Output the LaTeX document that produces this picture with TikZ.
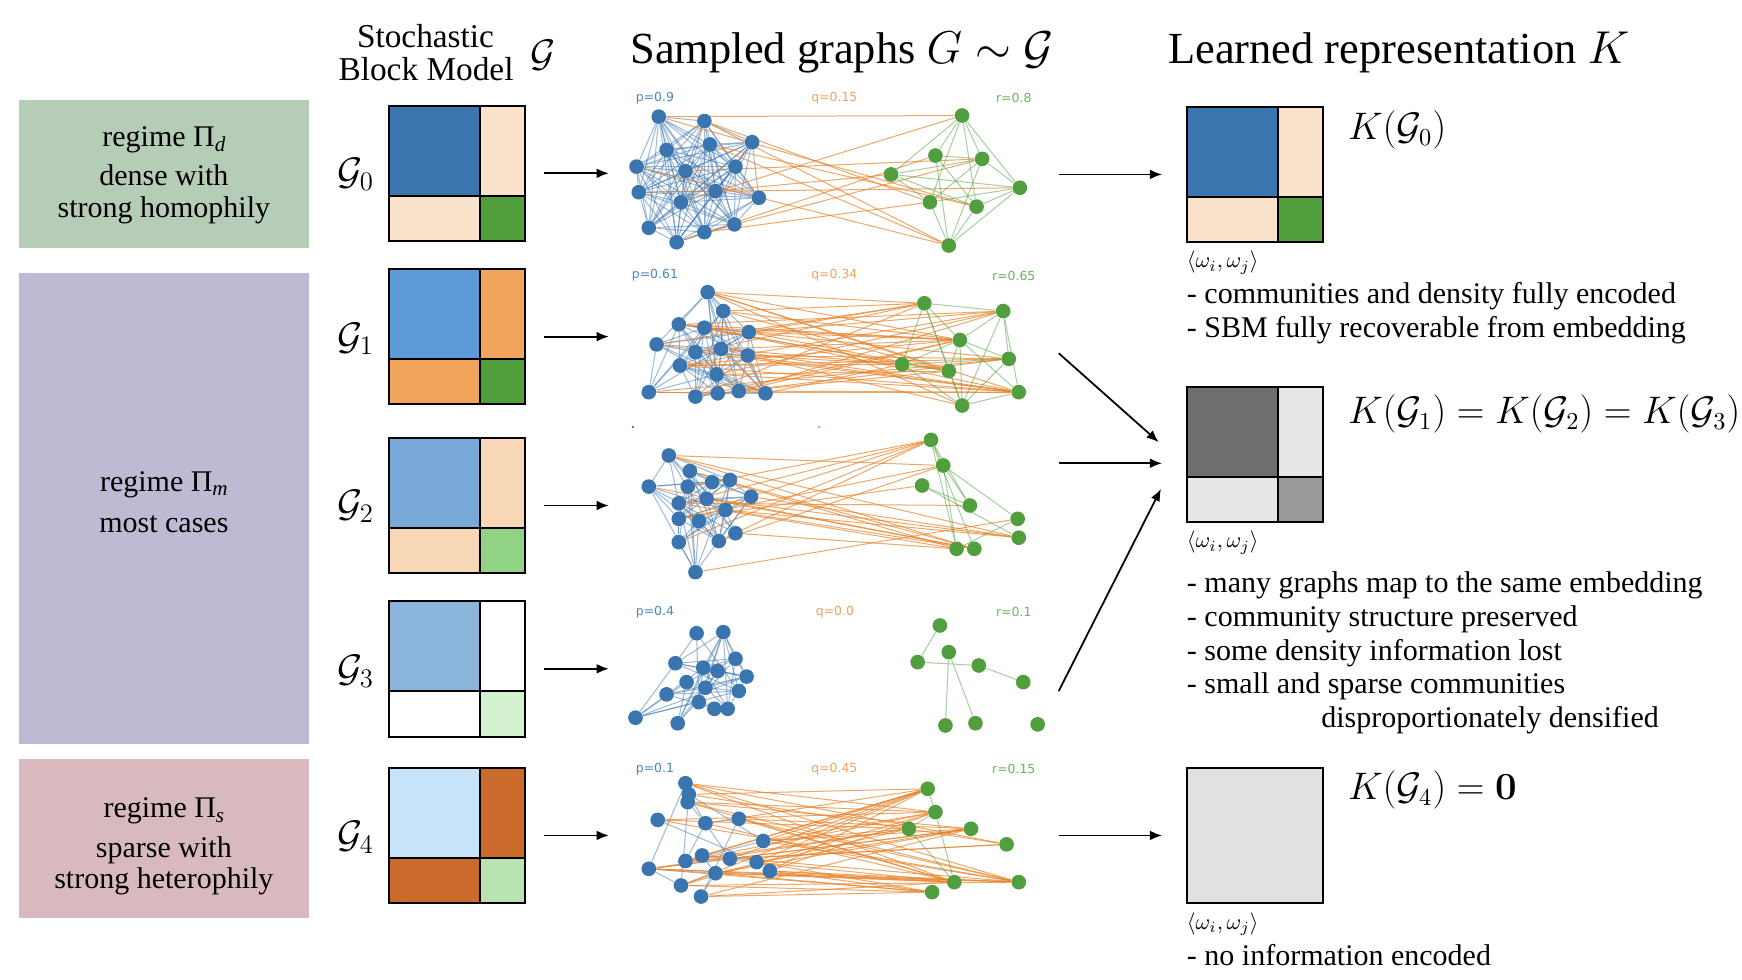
\documentclass[tikz,border=0pt]{standalone}
\usepackage[no-math]{fontspec}
\setmainfont{Liberation Serif}
\newfontfamily\dejavu{DejaVu Sans}
\usetikzlibrary{arrows.meta,backgrounds}

\definecolor{nblue}{HTML}{3A75B0}
\definecolor{ngreen}{HTML}{519E3E}
\definecolor{eorange}{HTML}{E8832A}
\definecolor{lblue}{HTML}{4A86C0}
\definecolor{lorange}{HTML}{F3A25C}
\definecolor{lgreen}{HTML}{6CB35C}
\definecolor{rgreen}{HTML}{B5CCB6}
\definecolor{rpurple}{HTML}{BCBBD3}
\definecolor{rpink}{HTML}{D8B9BD}
\definecolor{mblueA}{HTML}{3B75AF}
\definecolor{mpeach}{HTML}{FAE2CB}
\definecolor{mgreenA}{HTML}{509E3C}
\definecolor{mblueB}{HTML}{5C9BD8}
\definecolor{morangeB}{HTML}{F0A45C}
\definecolor{mblueC}{HTML}{78A9D9}
\definecolor{mpeachC}{HTML}{F7D7B5}
\definecolor{mgreenC}{HTML}{92D385}
\definecolor{mblueD}{HTML}{8BB4DA}
\definecolor{mgreenD}{HTML}{D3F0CF}
\definecolor{mblueE}{HTML}{C6E3FA}
\definecolor{morangeE}{HTML}{CB6B2B}
\definecolor{mgreenE}{HTML}{B9E3B2}
\definecolor{kdark}{HTML}{6E6E6E}
\definecolor{klight}{HTML}{E6E6E6}
\definecolor{kmid}{HTML}{999999}
\definecolor{kzero}{HTML}{E1E1E1}

\newcommand\intraedges[4]{%
  \foreach \i in {1,...,#2}{%
    \foreach \j in {1,...,#2}{%
      \ifnum\j>\i\relax
        \pgfmathsetmacro\rr{rnd}%
        \ifdim\rr pt<#3pt\relax\draw[#4] (#1\i) -- (#1\j);\fi
      \fi}}}
\newcommand\interedges[6]{%
  \foreach \i in {1,...,#2}{%
    \foreach \j in {1,...,#4}{%
      \pgfmathsetmacro\rr{rnd}%
      \ifdim\rr pt<#5pt\relax\draw[#6] (#1\i) -- (#3\j);\fi}}}
\newcommand\sbmblock[6]{%
  \fill[#4] (#2,#3) rectangle (#2+82,#3+81);
  \fill[#5] (#2+82,#3) rectangle (#2+123,#3+81);
  \fill[#5] (#2,#3+81) rectangle (#2+82,#3+122);
  \fill[#6] (#2+82,#3+81) rectangle (#2+123,#3+122);
  \draw[mline] (#2+82,#3) -- (#2+82,#3+122) (#2,#3+81) -- (#2+123,#3+81);
  \node[mbox] (#1) at (#2+61.5,#3+61) {};
}
\newcommand\lsub[1]{\raisebox{-0.35ex}{\fontsize{9.5}{10}\selectfont\itshape #1}}

\begin{document}
\begin{tikzpicture}[x=0.5pt,y=-0.5pt,
  bnode/.style={circle,fill=nblue,inner sep=0pt,minimum size=6.6pt},
  gnode/.style={circle,fill=ngreen,inner sep=0pt,minimum size=6.6pt},
  bedge/.style={draw=nblue,draw opacity=0.5,line width=0.45pt},
  oedge/.style={draw=eorange,draw opacity=0.7,line width=0.45pt},
  gedge/.style={draw=ngreen,draw opacity=0.5,line width=0.45pt},
  mbox/.style={draw,line width=0.9pt,minimum width=61.5pt,minimum height=61pt,inner sep=0pt,outer sep=0pt},
  mline/.style={line width=0.9pt},
  arr/.style={-{Latex[length=5.5pt,width=4.4pt]},line width=0.8pt},
  regbox/.style={inner sep=0pt,outer sep=0pt,minimum width=130.5pt},
  regtxt/.style={anchor=base,inner sep=0pt,font=\fontsize{13.5}{15}\selectfont},
  body/.style={anchor=base west,inner sep=0pt,font=\fontsize{13.5}{15}\selectfont},
  head/.style={anchor=base,inner sep=0pt,font=\fontsize{20}{24}\selectfont},
  glab/.style={inner sep=0pt,font=\fontsize{17}{20}\selectfont},
  klab/.style={anchor=base west,inner sep=0pt,font=\fontsize{16.2}{20}\selectfont},
  wlab/.style={anchor=base west,inner sep=0pt,font=\fontsize{10}{12}\selectfont},
  plab/.style={inner sep=0pt,font=\dejavu\fontsize{5.6}{7}\selectfont},
]
\useasboundingbox (0,0) rectangle (1568,882);
\begin{pgfonlayer}{background}
\fill[white] (0,0) rectangle (1568,882);
\end{pgfonlayer}

% regime boxes
\node[regbox,fill=rgreen,minimum height=66.5pt] (reg0) at (147.5,156.5) {};
\node[regbox,fill=rpurple,minimum height=212pt] (reg1) at (147.5,458) {};
\node[regbox,fill=rpink,minimum height=71.5pt] (reg2) at (147.5,754.5) {};
\node[regtxt] (r0a) at (147.5,132) {regime Π\lsub{d}};
\node[regtxt] (r0b) at (147.5,167) {dense with};
\node[regtxt] (r0c) at (147.5,196) {strong homophily};
\node[regtxt] (r1a) at (147.5,442) {regime Π\lsub{m}};
\node[regtxt] (r1b) at (147.5,479) {most cases};
\node[regtxt] (r2a) at (147.5,736) {regime Π\lsub{s}};
\node[regtxt] (r2b) at (147.5,772) {sparse with};
\node[regtxt] (r2c) at (147.5,800) {strong heterophily};

% headers
\node[anchor=base,inner sep=0pt,font=\fontsize{15}{16}\selectfont] (h1a) at (383,43) {Stochastic};
\node[anchor=base,inner sep=0pt,font=\fontsize{15}{16}\selectfont] (h1b) at (383.5,72.5) {Block Model};
\node[anchor=base,inner sep=0pt,font=\fontsize{18}{20}\selectfont] (h1c) at (489,60) {$\mathcal{G}$};
\node[head] (h2) at (758,57) {Sampled graphs $G\sim\mathcal{G}$};
\node[head] (h3) at (1259,57) {Learned representation $K$};

% SBM matrices
\sbmblock{s0}{350}{95}{mblueA}{mpeach}{mgreenA}
\sbmblock{s1}{350}{242}{mblueB}{morangeB}{mgreenA}
\sbmblock{s2}{350}{394}{mblueC}{mpeachC}{mgreenC}
\sbmblock{s3}{350}{541}{mblueD}{white}{mgreenD}
\sbmblock{s4}{350}{691}{mblueE}{morangeE}{mgreenE}
\node[glab] (l0) at (320,157) {$\mathcal{G}_0$};
\node[glab] (l1) at (320,305) {$\mathcal{G}_1$};
\node[glab] (l2) at (320,456) {$\mathcal{G}_2$};
\node[glab] (l3) at (320,604) {$\mathcal{G}_3$};
\node[glab] (l4) at (320,754) {$\mathcal{G}_4$};

% K matrices
\sbmblock{k0}{1068}{96}{mblueA}{mpeach}{mgreenA}
\sbmblock{k1}{1068}{348}{kdark}{klight}{kmid}
\node[mbox,fill=kzero] (k4) at (1129.5,752) {};
\node[klab] (kl0) at (1213,126) {$K(\mathcal{G}_0)$};
\node[klab] (kl1) at (1213,381) {$K(\mathcal{G}_1)=K(\mathcal{G}_2)=K(\mathcal{G}_3)$};
\node[klab] (kl4) at (1213,720) {$K(\mathcal{G}_4)=\mathbf{0}$};
\node[wlab] (w0) at (1068,241) {$\langle\omega_i,\omega_j\rangle$};
\node[wlab] (w1) at (1068,493) {$\langle\omega_i,\omega_j\rangle$};
\node[wlab] (w4) at (1068,836.5) {$\langle\omega_i,\omega_j\rangle$};

% descriptions
\node[body] (t0a) at (1068,273.5) {- communities and density fully encoded};
\node[body] (t0b) at (1068,303.5) {- SBM fully recoverable from embedding};
\node[body] (t1a) at (1068,533.5) {- many graphs map to the same embedding};
\node[body] (t1b) at (1068,564) {- community structure preserved};
\node[body] (t1c) at (1068,594.5) {- some density information lost};
\node[body] (t1d) at (1068,624.5) {- small and sparse communities};
\node[body] (t1e) at (1189,655) {disproportionately densified};
\node[body] (t4a) at (1068,869.5) {- no information encoded};

% graph labels
\node[plab,text=lblue] (p0) at (589.5,88) {p=0.9};
\node[plab,text=lorange] (q0) at (751,88) {q=0.15};
\node[plab,text=lgreen] (rr0) at (912.5,88) {r=0.8};
\node[plab,text=lblue] (p1) at (589.5,248) {p=0.61};
\node[plab,text=lorange] (q1) at (751,248) {q=0.34};
\node[plab,text=lgreen] (rr1) at (912.5,248) {r=0.65};
\node[plab,text=lblue] (p3) at (589.5,551) {p=0.4};
\node[plab,text=lorange] (q3) at (751.5,551) {q=0.0};
\node[plab,text=lgreen] (rr3) at (912.5,551) {r=0.1};
\node[plab,text=lblue] (p4) at (589.5,692) {p=0.1};
\node[plab,text=lorange] (q4) at (751,692) {q=0.45};
\node[plab,text=lgreen] (rr4) at (912.5,692) {r=0.15};
\fill[lblue] (569,383) rectangle (571,385);
\fill[lorange] (736,383) rectangle (738,385);

% graph nodes
\foreach [count=\i] \x/\y in {593/105,634/109,677/128,600/135,639/130,573/150,617/154,662/150,575/173,644/172,683/178,613/182,584/205,609/218,634/209,661/202}
  \node[bnode] (b0-\i) at (\x,\y) {};
\foreach [count=\i] \x/\y in {866/104,842/140,884/143,802/157,918/169,837/182,879/186,854/221}
  \node[gnode] (g0-\i) at (\x,\y) {};
\foreach [count=\i] \x/\y in {637/263,651/280,611/292,634/295,674/299,591/310,626/317,649/314,673/320,612/329,645/337,584/353,626/357,646/354,665/352,689/354}
  \node[bnode] (b1-\i) at (\x,\y) {};
\foreach [count=\i] \x/\y in {832/273,903/280,864/306,908/323,812/328,854/334,917/353,866/365}
  \node[gnode] (g1-\i) at (\x,\y) {};
\foreach [count=\i] \x/\y in {602/410,621/424,584/438,619/438,641/434,657/432,611/453,636/449,676/447,653/459,611/467,629/469,662/480,611/488,647/487,626/515}
  \node[bnode] (b2-\i) at (\x,\y) {};
\foreach [count=\i] \x/\y in {838/396,849/419,830/437,873/455,916/467,917/484,861/494,877/494}
  \node[gnode] (g2-\i) at (\x,\y) {};
\foreach [count=\i] \x/\y in {627/570,651/569,608/597,662/593,633/601,646/604,672/609,618/614,635/619,665/622,600/625,629/632,643/638,655/638,572/646,610/651}
  \node[bnode] (b3-\i) at (\x,\y) {};
\foreach [count=\i] \x/\y in {846/563,854/587,826/596,881/599,921/614,851/653,878/651,934/652}
  \node[gnode] (g3-\i) at (\x,\y) {};
\foreach [count=\i] \x/\y in {617/705,620/715,619/722,592/738,635/741,665/737,687/757,617/775,632/770,657/773,681/776,693/784,584/782,644/786,613/797,631/807}
  \node[bnode] (b4-\i) at (\x,\y) {};
\foreach [count=\i] \x/\y in {835/710,842/731,818/746,874/746,906/760,859/794,917/794,839/803}
  \node[gnode] (g4-\i) at (\x,\y) {};

% graph edges
\begin{pgfonlayer}{background}
\pgfmathsetseed{11}
\intraedges{b0-}{16}{0.9}{bedge}
\interedges{b0-}{16}{g0-}{8}{0.1}{oedge}
\intraedges{g0-}{8}{0.8}{gedge}
\pgfmathsetseed{23}
\intraedges{b1-}{16}{0.61}{bedge}
\interedges{b1-}{16}{g1-}{8}{0.32}{oedge}
\intraedges{g1-}{8}{0.65}{gedge}
\pgfmathsetseed{37}
\intraedges{b2-}{16}{0.5}{bedge}
\interedges{b2-}{16}{g2-}{8}{0.16}{oedge}
\intraedges{g2-}{8}{0.45}{gedge}
\pgfmathsetseed{41}
\intraedges{b3-}{16}{0.4}{bedge}
\draw[gedge] (g3-1) -- (g3-3) (g3-3) -- (g3-4) (g3-4) -- (g3-5) (g3-2) -- (g3-6) (g3-2) -- (g3-7);
\pgfmathsetseed{53}
\intraedges{b4-}{16}{0.1}{bedge}
\interedges{b4-}{16}{g4-}{8}{0.45}{oedge}
\draw[gedge] (g4-1) -- (g4-2) (g4-2) -- (g4-3) (g4-3) -- (g4-6) (g4-2) -- (g4-6);
\end{pgfonlayer}

% arrows SBM -> graphs
\coordinate (i0) at (548,156);
\coordinate (i1) at (548,303);
\coordinate (i2) at (548,455);
\coordinate (i3) at (548,602);
\coordinate (i4) at (548,752);
\draw[arr] ([xshift=8.5pt]s0.east) -- (i0);
\draw[arr] ([xshift=8.5pt]s1.east) -- (i1);
\draw[arr] ([xshift=8.5pt]s2.east) -- (i2);
\draw[arr] ([xshift=8.5pt]s3.east) -- (i3);
\draw[arr] ([xshift=8.5pt]s4.east) -- (i4);

% arrows graphs -> K
\coordinate (o0) at (953,157);
\coordinate (o1) at (953,318);
\coordinate (o2) at (953,417);
\coordinate (o3) at (953,622);
\coordinate (o4) at (953,752);
\coordinate (e1) at (1043,398);
\coordinate (e2) at (1046,417);
\coordinate (e3) at (1045,440);
\draw[arr] (o0) -- ([xshift=-11pt]k0.west);
\draw[arr] (o1) -- (e1);
\draw[arr] (o2) -- (e2);
\draw[arr] (o3) -- (e3);
\draw[arr] (o4) -- ([xshift=-11pt]k4.west);
\end{tikzpicture}
\end{document}
